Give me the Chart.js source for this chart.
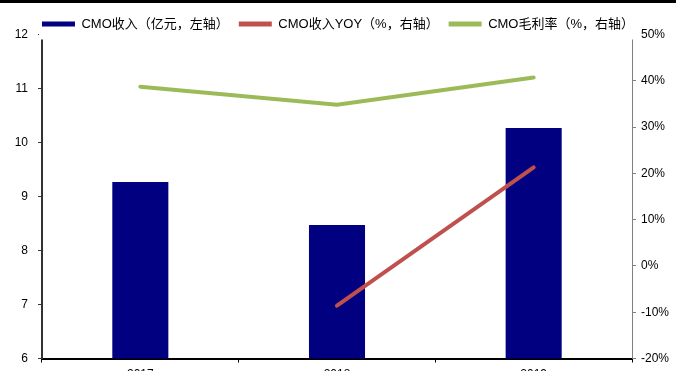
<!DOCTYPE html>
<html>
<head>
<meta charset="utf-8">
<script src="https://cdn.jsdelivr.net/npm/chart.js@4.4.0/dist/chart.umd.min.js"></script>
<style>
    body { margin: 0; overflow: hidden; background: #fff; }
    #wrap { position: relative; width: 676px; height: 371px; overflow: hidden; }
    #topBar { position: absolute; left: 0; top: 0; width: 676px; height: 3px; background: #000; }
</style>
</head>
<body>
<div id="wrap">
    <canvas id="myChart" width="676" height="400"></canvas>
    <div id="topBar"></div>
</div>
<script>
// Chart data
const years = ['2017', '2018', '2019'];
const cmoRevenue = [9.27, 8.47, 10.27];      // 亿元, left axis
const cmoRevenueYoy = [null, -8.6, 21.3];    // %, right axis
const cmoGrossMargin = [38.7, 34.8, 40.7];   // %, right axis
const leftTicks = [6, 7, 8, 9, 10, 11, 12];
const rightTicks = [-20, -10, 0, 10, 20, 30, 40, 50];

const FONT = "'Liberation Sans', Arial, 'Noto Sans CJK SC', sans-serif";

// Hide the top of the axis lines behind the legend, like the original
const legendCover = {
    id: 'legendCover',
    afterDraw(chart) {
        const ctx = chart.ctx;
        const area = chart.chartArea;
        ctx.save();
        ctx.fillStyle = '#fff';
        ctx.fillRect(39, area.top - 1, 598, 6);
        ctx.restore();
    }
};

function createChart() {
    const ctx = document.getElementById('myChart').getContext('2d');

    new Chart(ctx, {
        type: 'bar',
        data: {
            labels: years,
            datasets: [
                {
                    label: 'CMO收入（亿元，左轴）',
                    data: cmoRevenue,
                    backgroundColor: '#000080',
                    borderColor: '#000080',
                    borderWidth: 0,
                    barPercentage: 0.285,
                    categoryPercentage: 1,
                    yAxisID: 'y',
                    order: 2
                },
                {
                    type: 'line',
                    label: 'CMO收入YOY（%，右轴）',
                    data: cmoRevenueYoy,
                    borderColor: '#C0504D',
                    backgroundColor: '#C0504D',
                    borderWidth: 4,
                    borderCapStyle: 'round',
                    pointRadius: 0,
                    yAxisID: 'y1',
                    order: 1
                },
                {
                    type: 'line',
                    label: 'CMO毛利率（%，右轴）',
                    data: cmoGrossMargin,
                    borderColor: '#9BBB59',
                    backgroundColor: '#9BBB59',
                    borderWidth: 4,
                    borderCapStyle: 'round',
                    pointRadius: 0,
                    yAxisID: 'y1',
                    order: 0
                }
            ]
        },
        options: {
            responsive: false,
            animation: false,
            devicePixelRatio: 1,
            layout: {
                padding: { top: 7.5, bottom: 11.5, left: 0, right: 0 }
            },
            plugins: {
                tooltip: { enabled: false },
                legend: {
                    position: 'top',
                    maxHeight: 27,
                    labels: {
                        font: { family: FONT, size: 13 },
                        color: '#000',
                        boxWidth: 33,
                        boxHeight: 5,
                        padding: 10,
                        generateLabels(chart) {
                            const items = Chart.defaults.plugins.legend.labels.generateLabels(chart);
                            items.forEach(item => {
                                item.fillStyle = item.strokeStyle;
                                item.lineWidth = 0;
                            });
                            return items.sort((a, b) => a.datasetIndex - b.datasetIndex);
                        }
                    }
                }
            },
            scales: {
                x: {
                    grid: { drawOnChartArea: false, tickLength: 4, color: '#000' },
                    border: { color: '#000', width: 2 },
                    ticks: { font: { family: FONT, size: 12 }, color: '#000', padding: 5 },
                    afterFit(scale) { scale.height = 30; }
                },
                y: {
                    position: 'left',
                    min: leftTicks[0],
                    max: leftTicks[leftTicks.length - 1],
                    afterBuildTicks(scale) { scale.ticks = leftTicks.map(v => ({ value: v })); },
                    grid: { drawOnChartArea: false, tickLength: 4, color: '#333' },
                    border: { color: '#333', width: 2 },
                    ticks: { font: { family: FONT, size: 12 }, color: '#000', padding: 10 },
                    afterFit(scale) { scale.width = 42; }
                },
                y1: {
                    position: 'right',
                    min: rightTicks[0],
                    max: rightTicks[rightTicks.length - 1],
                    afterBuildTicks(scale) { scale.ticks = rightTicks.map(v => ({ value: v })); },
                    grid: { drawOnChartArea: false, tickLength: 4, color: '#808080' },
                    border: { color: '#808080', width: 1 },
                    ticks: {
                        font: { family: FONT, size: 12 },
                        color: '#000',
                        padding: 5,
                        callback: v => v + '%'
                    },
                    afterFit(scale) { scale.width = 44; }
                }
            }
        },
        plugins: [legendCover]
    });
}

createChart();
</script>
</body>
</html>
